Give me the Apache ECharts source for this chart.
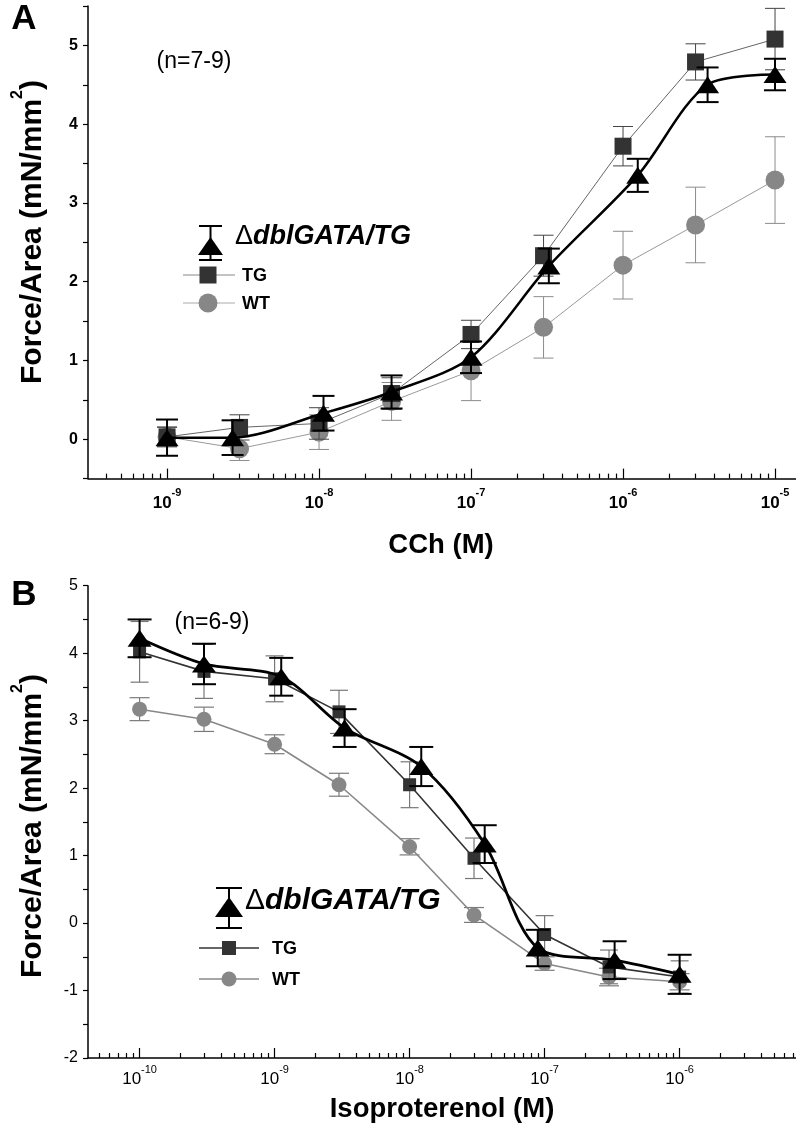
<!DOCTYPE html>
<html>
<head>
<meta charset="utf-8">
<script src="https://cdn.jsdelivr.net/npm/echarts@6/dist/echarts.min.js"></script>
<style>
html,body{margin:0;padding:0;background:#fff;}
#chart{width:796px;height:1134px;}
</style>
</head>
<body>
<div id="chart"></div>
<script>
// ---------- Panel A data (CCh) ----------
const cchConc = [1e-9, 3e-9, 1e-8, 3e-8, 1e-7, 3e-7, 1e-6, 3e-6, 1e-5];
const cchConcDbl = [1e-9, 2.7e-9, 1.07e-8, 3e-8, 1e-7, 3.25e-7, 1.25e-6, 3.6e-6, 1e-5];
const cchDbl = [0.02, 0.02, 0.33, 0.60, 1.04, 2.20, 3.35, 4.50, 4.63];
const cchDblErr = [0.23, 0.22, 0.22, 0.21, 0.20, 0.22, 0.21, 0.22, 0.20];
const cchTG = [0.03, 0.15, 0.20, 0.58, 1.33, 2.33, 3.72, 4.79, 5.08];
const cchTGErr = [0.12, 0.16, 0.20, 0.20, 0.18, 0.26, 0.25, 0.23, 0.39];
const cchWT = [0.03, -0.12, 0.09, 0.48, 0.87, 1.42, 2.21, 2.72, 3.29];
const cchWTErr = [0.13, 0.15, 0.22, 0.24, 0.38, 0.39, 0.43, 0.48, 0.55];
const cchDecades = [-9, -8, -7, -6, -5];

// ---------- Panel B data (Isoproterenol) ----------
const isoConc = [1e-10, 3e-10, 1e-9, 3e-9, 1e-8, 3e-8, 1e-7, 3e-7, 1e-6];
const isoConcDbl = [1e-10, 3e-10, 1.12e-9, 3.3e-9, 1.22e-8, 3.6e-8, 8.9e-8, 3.3e-7, 1e-6];
const isoDbl = [4.22, 3.84, 3.65, 2.89, 2.32, 1.17, -0.37, -0.55, -0.76];
const isoDblErr = [0.28, 0.30, 0.28, 0.28, 0.29, 0.28, 0.27, 0.28, 0.29];
const isoTG = [4.02, 3.73, 3.62, 3.13, 2.05, 0.96, -0.17, -0.65, -0.80];
const isoTGErr = [0.45, 0.40, 0.34, 0.32, 0.34, 0.30, 0.28, 0.25, 0.24];
const isoWT = [3.17, 3.02, 2.65, 2.05, 1.13, 0.12, -0.60, -0.80, -0.87];
const isoWTErr = [0.17, 0.18, 0.14, 0.17, 0.12, 0.11, 0.10, 0.13, 0.12];
const isoDecades = [-10, -9, -8, -7, -6];

const FONT = '"Liberation Sans", Arial, sans-serif';

const A_MIN = -9.52, A_MAX = -4.862;
const B_MIN = -10.382, B_MAX = -5.138;

function minorTicks(min, max) {
  const out = [];
  for (let n = Math.floor(min) - 1; n <= Math.ceil(max); n++) {
    for (let k = 2; k <= 9; k++) {
      const v = n + Math.log10(k);
      if (v > min && v < max) out.push(v);
    }
  }
  return out;
}
function pts(xs, ys) { return xs.map((x, i) => [Math.log10(x), ys[i]]); }
function errPts(xs, ys, es) { return xs.map((x, i) => [Math.log10(x), ys[i], es[i]]); }

function errSeries(xi, yi, data, color, width, cap, z) {
  return {
    type: 'custom', xAxisIndex: xi, yAxisIndex: yi, z: z, silent: true,
    data: data,
    renderItem: function (params, api) {
      const x = api.value(0), y = api.value(1), e = api.value(2);
      const top = api.coord([x, y + e]);
      const bot = api.coord([x, y - e]);
      const st = { stroke: color, lineWidth: width, fill: null };
      return {
        type: 'group',
        children: [
          { type: 'line', shape: { x1: top[0], y1: top[1], x2: bot[0], y2: bot[1] }, style: st },
          { type: 'line', shape: { x1: top[0] - cap / 2, y1: top[1], x2: top[0] + cap / 2, y2: top[1] }, style: st },
          { type: 'line', shape: { x1: bot[0] - cap / 2, y1: bot[1], x2: bot[0] + cap / 2, y2: bot[1] }, style: st }
        ]
      };
    }
  };
}

function xMain(grid, min, max, decades, bold, margin) {
  return {
    type: 'value', gridIndex: grid, min: min, max: max, position: 'bottom',
    axisLine: { show: true, onZero: false, lineStyle: { color: '#000', width: 1.5 } },
    axisTick: { show: true, inside: true, length: 10, customValues: decades, lineStyle: { color: '#000', width: 1.2 } },
    axisLabel: {
      show: true, customValues: decades, margin: margin,
      formatter: v => '{b|10}{s|' + Math.round(v) + '}',
      rich: {
        b: { fontFamily: FONT, fontSize: 17, fontWeight: bold ? 'bold' : 'normal', color: '#000', lineHeight: 24, verticalAlign: 'bottom' },
        s: { fontFamily: FONT, fontSize: 11, fontWeight: bold ? 'bold' : 'normal', color: '#000', lineHeight: 12, verticalAlign: 'top' }
      }
    },
    splitLine: { show: false }
  };
}
function xMinor(grid, min, max) {
  return {
    type: 'value', gridIndex: grid, min: min, max: max, position: 'bottom',
    axisLine: { show: false, onZero: false },
    axisTick: { show: true, inside: true, length: 5, customValues: minorTicks(min, max), lineStyle: { color: '#000', width: 1.2 } },
    axisLabel: { show: false },
    splitLine: { show: false }
  };
}
function yAx(grid, min, max, bold) {
  return {
    type: 'value', gridIndex: grid, min: min, max: max, interval: 0.5,
    axisLine: { show: true, lineStyle: { color: '#000', width: 1.5 } },
    axisTick: { show: true, inside: false, length: 5, lineStyle: { color: '#000', width: 1.2 } },
    axisLabel: {
      margin: 10, fontFamily: FONT, fontSize: 16, fontWeight: bold ? 'bold' : 'normal', color: '#000',
      formatter: v => (Math.abs(v - Math.round(v)) < 1e-9 ? String(Math.round(v)) : '')
    },
    splitLine: { show: false }
  };
}

const chart = echarts.init(document.getElementById('chart'), null, { renderer: 'canvas' });

const series = [
  // Panel A
  errSeries(0, 0, errPts(cchConc, cchWT, cchWTErr), '#8c8c8c', 1, 20, 1),
  { type: 'line', xAxisIndex: 0, yAxisIndex: 0, z: 2, data: pts(cchConc, cchWT), symbol: 'circle', symbolSize: 19,
    itemStyle: { color: '#878787' }, lineStyle: { color: '#9a9a9a', width: 1 }, animation: false },
  errSeries(0, 0, errPts(cchConc, cchTG, cchTGErr), '#444', 1, 20, 3),
  { type: 'line', xAxisIndex: 0, yAxisIndex: 0, z: 4, data: pts(cchConc, cchTG), symbol: 'rect', symbolSize: 17,
    itemStyle: { color: '#333' }, lineStyle: { color: '#666', width: 1 }, animation: false },
  errSeries(0, 0, errPts(cchConcDbl, cchDbl, cchDblErr), '#000', 2, 22, 5),
  { type: 'line', xAxisIndex: 0, yAxisIndex: 0, z: 6, data: pts(cchConcDbl, cchDbl), symbol: 'triangle', symbolSize: [23, 17],
    smooth: 0.3, itemStyle: { color: '#000' }, lineStyle: { color: '#000', width: 2.5 }, animation: false },
  // Panel B
  errSeries(2, 1, errPts(isoConc, isoWT, isoWTErr), '#7a7a7a', 1.2, 20, 1),
  { type: 'line', xAxisIndex: 2, yAxisIndex: 1, z: 2, data: pts(isoConc, isoWT), symbol: 'circle', symbolSize: 15,
    itemStyle: { color: '#878787' }, lineStyle: { color: '#888', width: 1.6 }, animation: false },
  errSeries(2, 1, errPts(isoConc, isoTG, isoTGErr), '#777', 1.2, 18, 3),
  { type: 'line', xAxisIndex: 2, yAxisIndex: 1, z: 4, data: pts(isoConc, isoTG), symbol: 'rect', symbolSize: 13,
    itemStyle: { color: '#333' }, lineStyle: { color: '#333', width: 1.6 }, animation: false },
  errSeries(2, 1, errPts(isoConcDbl, isoDbl, isoDblErr), '#000', 2, 24, 5),
  { type: 'line', xAxisIndex: 2, yAxisIndex: 1, z: 6, data: pts(isoConcDbl, isoDbl), symbol: 'triangle', symbolSize: [24, 17],
    smooth: 0.3, itemStyle: { color: '#000' }, lineStyle: { color: '#000', width: 2.8 }, animation: false }
];

const titleRich = {
  a: { fontFamily: FONT, fontSize: 30, fontWeight: 'bold', fill: '#000', lineHeight: 38, verticalAlign: 'bottom' },
  s: { fontFamily: FONT, fontSize: 16, fontWeight: 'bold', fill: '#000', lineHeight: 16, verticalAlign: 'top' }
};

const graphics = [
  { type: 'text', x: 24, y: 19, style: { text: 'A', font: 'bold 35px ' + FONT, fill: '#000', align: 'center', verticalAlign: 'middle' } },
  { type: 'text', x: 24, y: 595, style: { text: 'B', font: 'bold 35px ' + FONT, fill: '#000', align: 'center', verticalAlign: 'middle' } },
  { type: 'text', x: 194, y: 62, style: { text: '(n=7-9)', font: '23px ' + FONT, fill: '#000', align: 'center', verticalAlign: 'middle' } },
  { type: 'text', x: 212, y: 623, style: { text: '(n=6-9)', font: '23px ' + FONT, fill: '#000', align: 'center', verticalAlign: 'middle' } },
  { type: 'text', x: 441, y: 545, style: { text: 'CCh (M)', font: 'bold 27.5px ' + FONT, fill: '#000', align: 'center', verticalAlign: 'middle' } },
  { type: 'text', x: 442, y: 1109, style: { text: 'Isoproterenol (M)', font: 'bold 27.5px ' + FONT, fill: '#000', align: 'center', verticalAlign: 'middle' } },
  { type: 'text', x: 29, y: 232, rotation: Math.PI / 2,
    style: { text: '{a|Force/Area (mN/mm}{s|2}{a|)}', rich: titleRich, align: 'center', verticalAlign: 'middle' } },
  { type: 'text', x: 29, y: 826, rotation: Math.PI / 2,
    style: { text: '{a|Force/Area (mN/mm}{s|2}{a|)}', rich: titleRich, align: 'center', verticalAlign: 'middle' } },

  // Legend A
  { type: 'line', shape: { x1: 210.5, y1: 226, x2: 210.5, y2: 260 }, style: { stroke: '#000', lineWidth: 2 } },
  { type: 'line', shape: { x1: 199, y1: 226, x2: 222, y2: 226 }, style: { stroke: '#000', lineWidth: 2 } },
  { type: 'line', shape: { x1: 199, y1: 260, x2: 222, y2: 260 }, style: { stroke: '#000', lineWidth: 2 } },
  { type: 'polygon', shape: { points: [[198, 255], [223, 255], [210.5, 237]] }, style: { fill: '#000' } },
  { type: 'text', x: 235, y: 237, style: { text: '{d|Δ}{i|dblGATA/TG}', align: 'left', verticalAlign: 'middle',
      rich: { d: { fontFamily: FONT, fontSize: 27, fill: '#000' }, i: { fontFamily: FONT, fontSize: 27, fontWeight: 'bold', fontStyle: 'italic', fill: '#000' } } } },
  { type: 'line', shape: { x1: 183, y1: 275, x2: 235, y2: 275 }, style: { stroke: '#888', lineWidth: 1 } },
  { type: 'rect', shape: { x: 199.5, y: 266.5, width: 17, height: 17 }, style: { fill: '#333' } },
  { type: 'text', x: 242, y: 276, style: { text: 'TG', font: 'bold 18px ' + FONT, fill: '#000', align: 'left', verticalAlign: 'middle' } },
  { type: 'line', shape: { x1: 183, y1: 303, x2: 235, y2: 303 }, style: { stroke: '#aaa', lineWidth: 1 } },
  { type: 'circle', shape: { cx: 208, cy: 303, r: 9.5 }, style: { fill: '#878787' } },
  { type: 'text', x: 242, y: 304, style: { text: 'WT', font: 'bold 18px ' + FONT, fill: '#000', align: 'left', verticalAlign: 'middle' } },

  // Legend B
  { type: 'line', shape: { x1: 229, y1: 888, x2: 229, y2: 928 }, style: { stroke: '#000', lineWidth: 2 } },
  { type: 'line', shape: { x1: 216, y1: 888, x2: 242, y2: 888 }, style: { stroke: '#000', lineWidth: 2 } },
  { type: 'line', shape: { x1: 216, y1: 928, x2: 242, y2: 928 }, style: { stroke: '#000', lineWidth: 2 } },
  { type: 'polygon', shape: { points: [[215, 917], [243, 917], [229, 897]] }, style: { fill: '#000' } },
  { type: 'text', x: 245, y: 901, style: { text: '{d|Δ}{i|dblGATA/TG}', align: 'left', verticalAlign: 'middle',
      rich: { d: { fontFamily: FONT, fontSize: 30, fill: '#000' }, i: { fontFamily: FONT, fontSize: 30, fontWeight: 'bold', fontStyle: 'italic', fill: '#000' } } } },
  { type: 'line', shape: { x1: 199, y1: 948, x2: 259, y2: 948 }, style: { stroke: '#333', lineWidth: 1.6 } },
  { type: 'rect', shape: { x: 222, y: 941, width: 14, height: 14 }, style: { fill: '#333' } },
  { type: 'text', x: 272, y: 949, style: { text: 'TG', font: 'bold 18px ' + FONT, fill: '#000', align: 'left', verticalAlign: 'middle' } },
  { type: 'line', shape: { x1: 199, y1: 979, x2: 259, y2: 979 }, style: { stroke: '#888', lineWidth: 1.6 } },
  { type: 'circle', shape: { cx: 229, cy: 979, r: 7.5 }, style: { fill: '#878787' } },
  { type: 'text', x: 272, y: 980, style: { text: 'WT', font: 'bold 18px ' + FONT, fill: '#000', align: 'left', verticalAlign: 'middle' } }
];

chart.setOption({
  animation: false,
  backgroundColor: '#fff',
  grid: [
    { left: 88, top: 6, width: 708, height: 472.6, containLabel: false },
    { left: 88, top: 585.7, width: 708, height: 472.3, containLabel: false }
  ],
  xAxis: [
    xMain(0, A_MIN, A_MAX, cchDecades, true, 9),
    xMinor(0, A_MIN, A_MAX),
    xMain(1, B_MIN, B_MAX, isoDecades, false, 6),
    xMinor(1, B_MIN, B_MAX)
  ],
  yAxis: [
    yAx(0, -0.5, 5.5, true),
    yAx(1, -2, 5, false)
  ],
  series: series,
  graphic: graphics
});
</script>
</body>
</html>
